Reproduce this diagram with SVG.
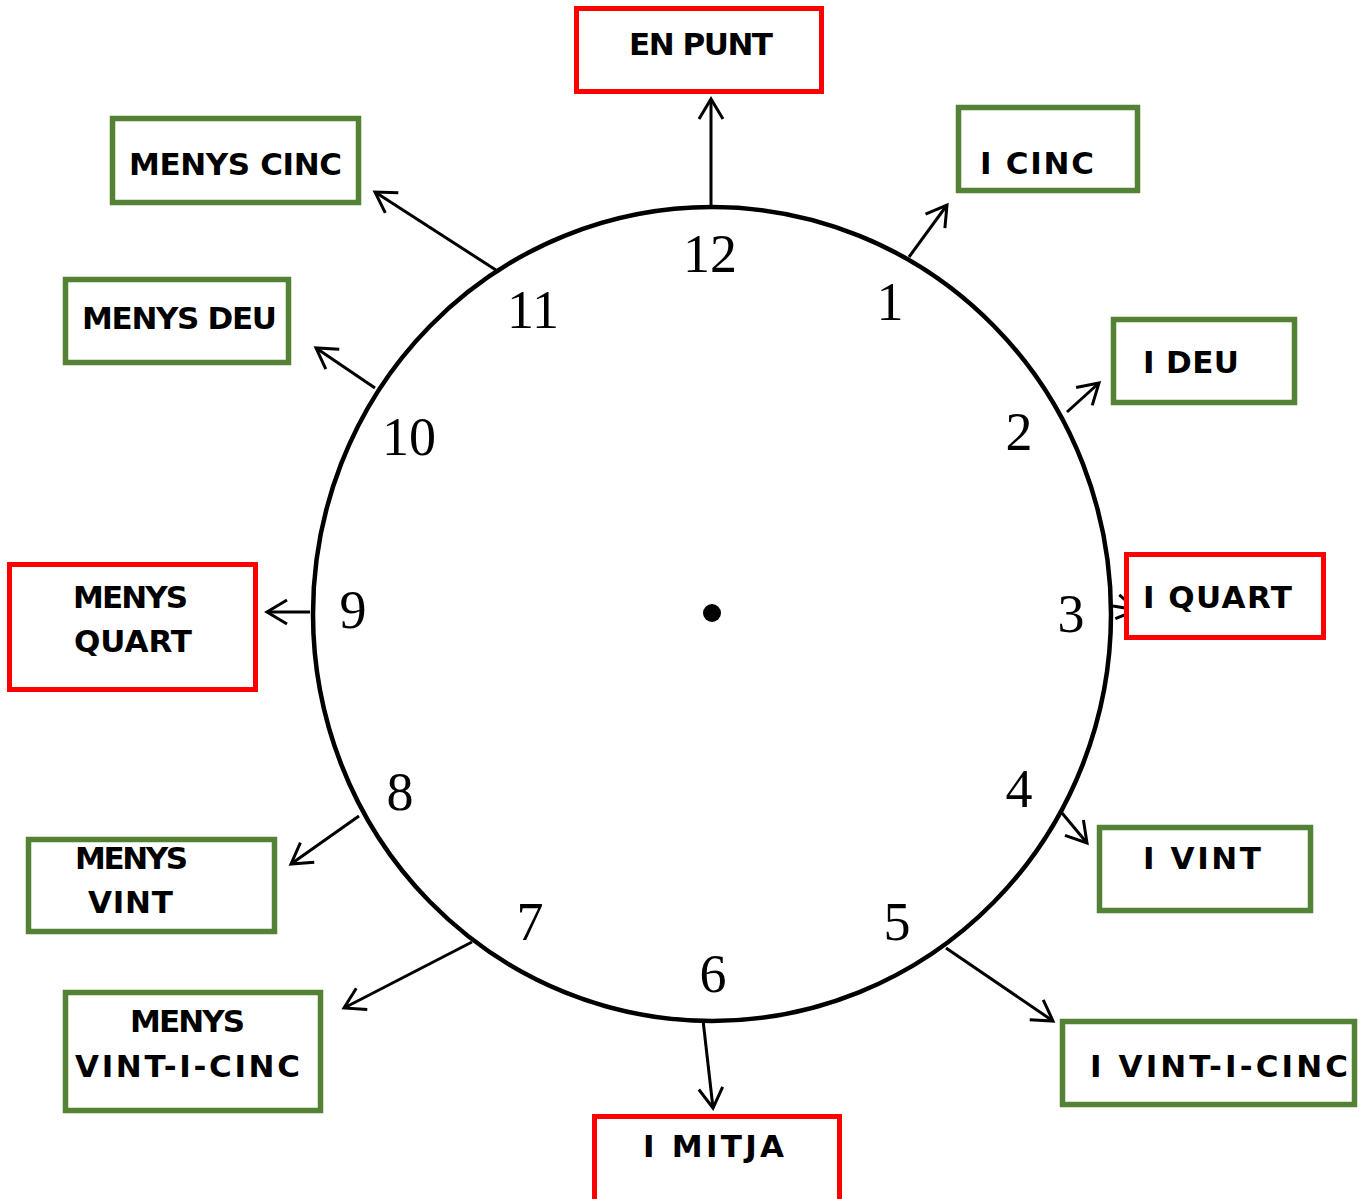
<svg xmlns="http://www.w3.org/2000/svg" width="1364" height="1199" viewBox="0 0 1364 1199">
<style>
.red{fill:#fff;stroke:#ff0000;stroke-width:5}
.green{fill:#fff;stroke:#548235;stroke-width:5.5}
.lbl{font-family:"DejaVu Sans","Liberation Sans",sans-serif;font-weight:bold;font-size:31px;fill:#000}
.num{font-family:"Liberation Serif","Times New Roman",serif;font-size:54px;fill:#000;text-anchor:middle}
.arr{stroke:#000;stroke-width:3;fill:none;marker-end:url(#ah)}
</style>
<defs>
<marker id="ah" viewBox="0 0 28 30" refX="24" refY="15" markerWidth="28" markerHeight="30" markerUnits="userSpaceOnUse" orient="auto">
<path d="M4,3 L24,15 L4,27" fill="none" stroke="#000" stroke-width="3"/>
</marker>
</defs>
<rect width="1364" height="1199" fill="#fff"/>
<g id="clock">
<ellipse cx="712" cy="614" rx="399" ry="407" fill="none" stroke="#000" stroke-width="4.5"/>
<circle cx="712" cy="613" r="9" fill="#000"/>
<text class="num" x="710" y="272">12</text>
<text class="num" x="890" y="320">1</text>
<text class="num" x="1019" y="450">2</text>
<text class="num" x="1071" y="632">3</text>
<text class="num" x="1019" y="807">4</text>
<text class="num" x="897" y="940">5</text>
<text class="num" x="713" y="992">6</text>
<text class="num" x="530" y="940">7</text>
<text class="num" x="400" y="810">8</text>
<text class="num" x="353" y="628">9</text>
<text class="num" x="409" y="455">10</text>
<text class="num" x="533" y="328">11</text>
</g>
<g id="connectors">
<line class="arr" x1="711" y1="205" x2="711" y2="99"/>
<line class="arr" x1="909" y1="257" x2="947" y2="205"/>
<line class="arr" x1="1067" y1="412" x2="1099" y2="383"/>
<line class="arr" x1="1113" y1="606" x2="1137" y2="610"/>
<line class="arr" x1="1062" y1="813" x2="1087" y2="843"/>
<line class="arr" x1="946" y1="948" x2="1053" y2="1021"/>
<line class="arr" x1="703" y1="1020" x2="713" y2="1108"/>
<line class="arr" x1="472" y1="942" x2="344" y2="1008"/>
<line class="arr" x1="359" y1="816" x2="291" y2="864"/>
<line class="arr" x1="310" y1="612" x2="267" y2="612"/>
<line class="arr" x1="375" y1="388" x2="316" y2="348"/>
<line class="arr" x1="499" y1="272" x2="375" y2="192"/>
</g>
<g id="en-punt"><rect class="red" x="576.5" y="8.5" width="245" height="83"/><text class="lbl" x="629" y="55" textLength="144">EN PUNT</text></g>
<g id="i-cinc"><rect class="green" x="958.5" y="107.5" width="179" height="83"/><text class="lbl" x="980" y="174" textLength="114">I CINC</text></g>
<g id="i-deu"><rect class="green" x="1113.5" y="319.5" width="181" height="83"/><text class="lbl" x="1143" y="373" textLength="96">I DEU</text></g>
<g id="i-quart"><rect class="red" x="1126.5" y="554.5" width="197" height="83"/><text class="lbl" x="1143" y="608" textLength="149">I QUART</text></g>
<g id="i-vint"><rect class="green" x="1099.5" y="827.5" width="211" height="83"/><text class="lbl" x="1143" y="869" textLength="118">I VINT</text></g>
<g id="i-vint-i-cinc"><rect class="green" x="1062.5" y="1021.5" width="292" height="83"/><text class="lbl" x="1090" y="1077" textLength="258">I VINT-I-CINC</text></g>
<g id="i-mitja"><rect class="red" x="594.5" y="1116.5" width="245" height="86"/><text class="lbl" x="643" y="1157" textLength="141">I MITJA</text></g>
<g id="menys-vint-i-cinc"><rect class="green" x="65.5" y="992.5" width="255" height="118"/><text class="lbl" x="130" y="1032" textLength="115">MENYS</text><text class="lbl" x="75" y="1077" textLength="225">VINT-I-CINC</text></g>
<g id="menys-vint"><rect class="green" x="28.5" y="839.5" width="246" height="92"/><text class="lbl" x="75" y="869" textLength="113">MENYS</text><text class="lbl" x="88" y="913" textLength="85">VINT</text></g>
<g id="menys-quart"><rect class="red" x="9.5" y="564.5" width="246" height="125"/><text class="lbl" x="73" y="608" textLength="115">MENYS</text><text class="lbl" x="74" y="652" textLength="118">QUART</text></g>
<g id="menys-deu"><rect class="green" x="65.5" y="279.5" width="223" height="83"/><text class="lbl" x="82" y="329" textLength="195">MENYS DEU</text></g>
<g id="menys-cinc"><rect class="green" x="112.5" y="118.5" width="246" height="84"/><text class="lbl" x="129" y="175" textLength="213">MENYS CINC</text></g>
</svg>
